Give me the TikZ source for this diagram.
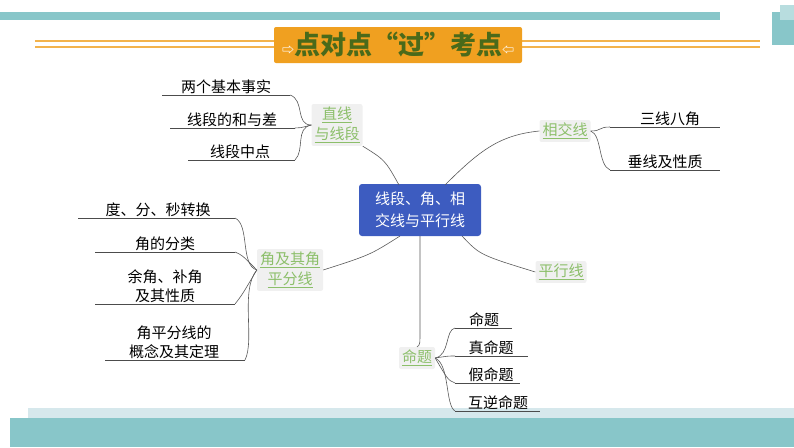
\documentclass[tikz,border=0pt]{standalone}
\usepackage{fontspec}
\setmainfont{Noto Sans CJK SC}
\definecolor{teal1}{HTML}{88C6C9}
\definecolor{teal2}{HTML}{D6E8EC}
\definecolor{gr}{HTML}{8CBF6A}
\definecolor{cblue}{HTML}{3D5CC0}
\definecolor{olive}{HTML}{4A6A1A}
\definecolor{org}{HTML}{F0A020}
\begin{document}
\begin{tikzpicture}[x=1pt,y=-1pt,
  conn/.style={draw=gray!70!black,line width=0.6pt},
  leaf/.style={inner sep=1pt,font=\fontsize{15}{19}\selectfont,align=center},
  topic/.style={fill=gray!12,rounded corners=2pt,text=gr,font=\fontsize{15}{20}\selectfont,align=center,inner sep=3pt},
  ul/.style={draw=black!70,line width=0.6pt}]
\useasboundingbox (0,0) rectangle (794,447);
% decorations
\fill[teal1] (0,12) rectangle (720,20);
\fill[teal1] (772,12) rectangle (794,45);
\fill[teal1!60] (780,5) rectangle (794,20);
\draw[org!80,line width=1.2pt] (35,41)--(760,41) (35,47)--(760,47);
\node[fill=org,rounded corners=2pt,minimum width=248,minimum height=36,text=olive,font=\bfseries\fontsize{26}{28}\selectfont,inner sep=1pt] (title) at (398,45) {\textcolor{white}{\fontsize{12}{12}\selectfont ⇨}点对点“过”考点\textcolor{white}{\fontsize{12}{12}\selectfont ⇦}};
\fill[teal2] (28,408) rectangle (794,420);
\fill[teal1] (10,418) rectangle (794,447);
% center
\node[fill=cblue,rounded corners=3pt,text=white,align=center,font=\fontsize{15}{22}\selectfont,minimum width=122,minimum height=52,inner sep=2pt] (c) at (420,210) {线段、角、相\\交线与平行线};
\node[topic] (t1) at (337,125) {\underline{直线}\\\underline{与线段}};
\node[topic] (t2) at (565,131) {\underline{相交线}};
\node[topic] (t3) at (561,272) {\underline{平行线}};
\node[topic] (t4) at (290,270) {\underline{角及其角}\\\underline{平分线}};
\node[topic] (t5) at (417,358) {\underline{命题}};
\draw[conn] (399,185) .. controls (385,160) .. (t1.south east);
\draw[conn] (445,185) .. controls (480,150) and (500,135) .. (t2.west);
\draw[conn] (462,236) .. controls (480,255) .. (t3.west);
\draw[conn] (400,236) .. controls (370,255) .. (t4.east);
\draw[conn] (420,236) -- (420,330) .. controls (420,345) .. (t5.north);
% leaves
\node[leaf,anchor=south] (l1) at (226,95) {两个基本事实};
\node[leaf,anchor=south] (l2) at (232,128) {线段的和与差};
\node[leaf,anchor=south] (l3) at (240,160) {线段中点};
\draw[ul] (162,95)--(290,95) (170,128)--(295,128) (188,160)--(295,160);
\draw[conn] (290,95) .. controls (305,100) and (295,125) .. (t1.west);
\draw[conn] (295,128) .. controls (300,128) .. (t1.west);
\draw[conn] (295,160) .. controls (305,150) and (295,128) .. (t1.west);
\node[leaf,anchor=south] (r1) at (670,127) {三线八角};
\node[leaf,anchor=south] (r2) at (665,170) {垂线及性质};
\draw[ul] (610,127)--(720,127) (610,170)--(720,170);
\draw[conn] (610,127) .. controls (598,127) and (602,131) .. (t2.east);
\draw[conn] (610,170) .. controls (598,165) and (602,135) .. (t2.east);
\node[leaf,anchor=south] (k1) at (158,218) {度、分、秒转换};
\node[leaf,anchor=south] (k2) at (165,252) {角的分类};
\node[leaf,anchor=south,align=center] (k3) at (165,304) {余角、补角\\及其性质};
\node[leaf,anchor=south,align=center] (k4) at (174,360) {角平分线的\\概念及其定理};
\draw[ul] (78,218)--(235,218) (95,252)--(235,252) (95,304)--(235,304) (105,360)--(245,360);
\draw[conn] (235,218) .. controls (250,225) and (240,265) .. (t4.west);
\draw[conn] (235,252) .. controls (242,255) .. (t4.west);
\draw[conn] (235,304) .. controls (242,295) .. (t4.west);
\draw[conn] (245,360) .. controls (255,340) and (240,290) .. (t4.west);
\node[leaf,anchor=south] (m1) at (484,328) {命题};
\node[leaf,anchor=south] (m2) at (491,356) {真命题};
\node[leaf,anchor=south] (m3) at (491,383) {假命题};
\node[leaf,anchor=south] (m4) at (498,411) {互逆命题};
\draw[ul] (455,328)--(512,328) (455,356)--(528,356) (455,383)--(520,383) (455,411)--(540,411);
\draw[conn] (455,328) .. controls (445,330) and (450,355) .. (t5.east);
\draw[conn] (455,356) .. controls (448,356) .. (t5.east);
\draw[conn] (455,383) .. controls (448,380) .. (t5.east);
\draw[conn] (455,411) .. controls (445,405) and (450,365) .. (t5.east);
\end{tikzpicture}
\end{document}
